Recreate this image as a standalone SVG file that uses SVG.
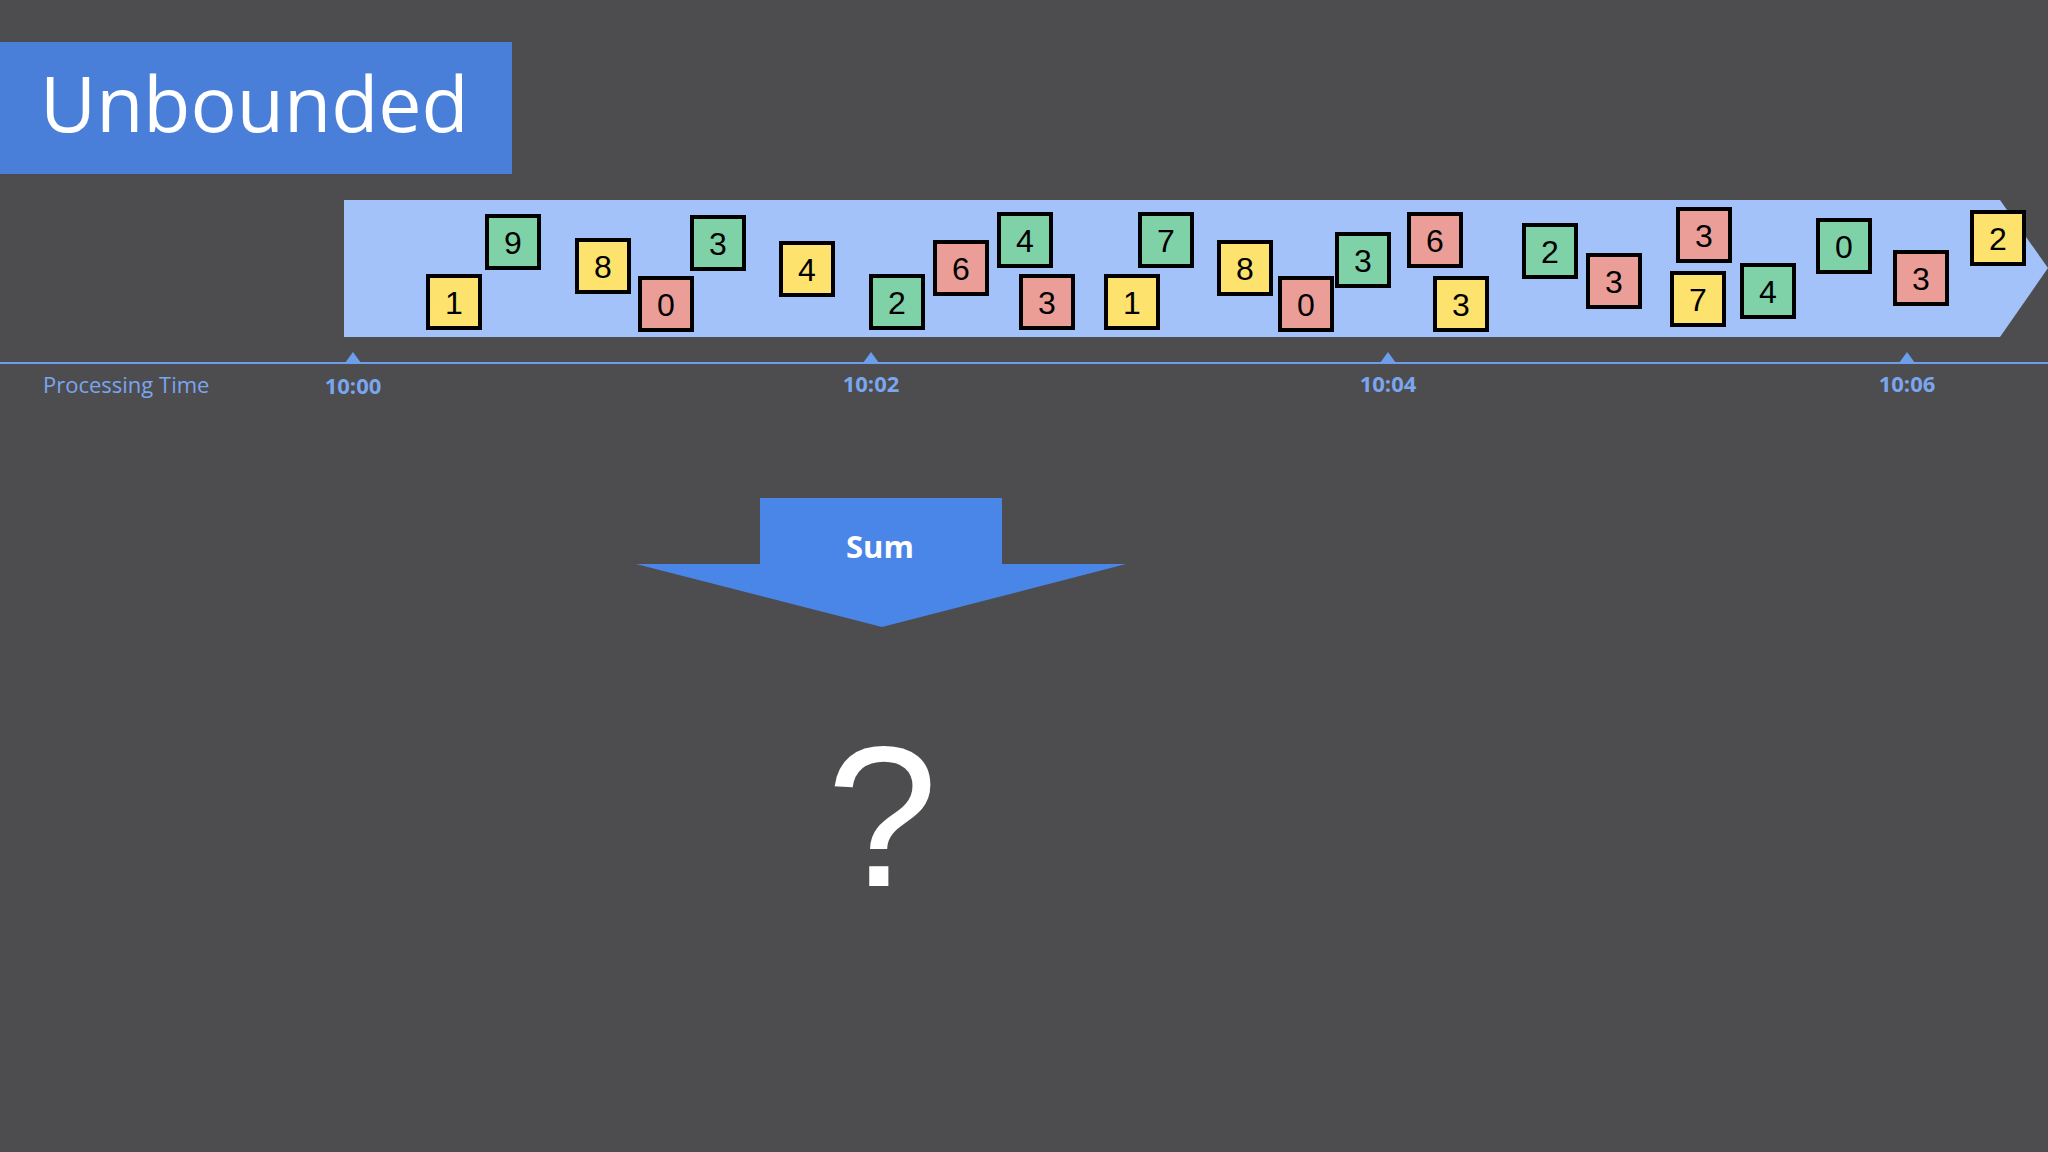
<svg xmlns="http://www.w3.org/2000/svg" width="2048" height="1152" viewBox="0 0 2048 1152">
<defs>
<style>
.b rect{stroke:#000;stroke-width:4}
.y{fill:#fde36e}.g{fill:#7fd1a8}.r{fill:#eb9e98}
.b text{font-family:"Liberation Sans",Arial,sans-serif;font-size:32px;text-anchor:middle;fill:#000}
.t{font-family:"Open Sans","Noto Sans",sans-serif;font-weight:bold;font-size:22px;fill:#7aa6ee;text-anchor:middle}
</style>
</defs>
<rect width="2048" height="1152" fill="#4d4c4e"/>
<g id="title"><rect x="0" y="42" width="512" height="132" fill="#4a7fd9"/>
<text x="40" y="132" font-family="Open Sans,Noto Sans,sans-serif" font-size="77" fill="#fff">Unbounded</text></g>
<g id="stream"><path d="M344 200 H2000 L2048 268 L2000 337 H344Z" fill="#a4c2fa"/></g>
<g id="axis">
<rect x="0" y="362" width="2048" height="2" fill="#6d9eeb"/>
<g fill="#6d9eeb"><path d="M345 363 L353 352 L361 363Z"/><path d="M863 363 L871 352 L879 363Z"/><path d="M1380 363 L1388 352 L1396 363Z"/><path d="M1899 363 L1907 352 L1915 363Z"/></g>
<text x="43" y="393" font-family="Open Sans,Noto Sans,sans-serif" font-size="22" fill="#7aa6ee">Processing Time</text>
<text class="t" x="353" y="394">10:00</text><text class="t" x="871" y="392">10:02</text><text class="t" x="1388" y="392">10:04</text><text class="t" x="1907" y="392">10:06</text>
</g>
<g id="boxes" class="b">
<g><rect class="y" x="428" y="276" width="52" height="52"/><text x="454" y="314">1</text></g>
<g><rect class="g" x="487" y="216" width="52" height="52"/><text x="513" y="254">9</text></g>
<g><rect class="y" x="577" y="240" width="52" height="52"/><text x="603" y="278">8</text></g>
<g><rect class="r" x="640" y="278" width="52" height="52"/><text x="666" y="316">0</text></g>
<g><rect class="g" x="692" y="217" width="52" height="52"/><text x="718" y="255">3</text></g>
<g><rect class="y" x="781" y="243" width="52" height="52"/><text x="807" y="281">4</text></g>
<g><rect class="g" x="871" y="276" width="52" height="52"/><text x="897" y="314">2</text></g>
<g><rect class="r" x="935" y="242" width="52" height="52"/><text x="961" y="280">6</text></g>
<g><rect class="g" x="999" y="214" width="52" height="52"/><text x="1025" y="252">4</text></g>
<g><rect class="r" x="1021" y="276" width="52" height="52"/><text x="1047" y="314">3</text></g>
<g><rect class="y" x="1106" y="276" width="52" height="52"/><text x="1132" y="314">1</text></g>
<g><rect class="g" x="1140" y="214" width="52" height="52"/><text x="1166" y="252">7</text></g>
<g><rect class="y" x="1219" y="242" width="52" height="52"/><text x="1245" y="280">8</text></g>
<g><rect class="r" x="1280" y="278" width="52" height="52"/><text x="1306" y="316">0</text></g>
<g><rect class="g" x="1337" y="234" width="52" height="52"/><text x="1363" y="272">3</text></g>
<g><rect class="r" x="1409" y="214" width="52" height="52"/><text x="1435" y="252">6</text></g>
<g><rect class="y" x="1435" y="278" width="52" height="52"/><text x="1461" y="316">3</text></g>
<g><rect class="g" x="1524" y="225" width="52" height="52"/><text x="1550" y="263">2</text></g>
<g><rect class="r" x="1588" y="255" width="52" height="52"/><text x="1614" y="293">3</text></g>
<g><rect class="r" x="1678" y="209" width="52" height="52"/><text x="1704" y="247">3</text></g>
<g><rect class="y" x="1672" y="273" width="52" height="52"/><text x="1698" y="311">7</text></g>
<g><rect class="g" x="1742" y="265" width="52" height="52"/><text x="1768" y="303">4</text></g>
<g><rect class="g" x="1818" y="220" width="52" height="52"/><text x="1844" y="258">0</text></g>
<g><rect class="r" x="1895" y="252" width="52" height="52"/><text x="1921" y="290">3</text></g>
<g><rect class="y" x="1972" y="212" width="52" height="52"/><text x="1998" y="250">2</text></g>
</g>
<g id="sum"><path d="M760 498 H1002 V564 H1126 L882 627 L636 564 H760Z" fill="#4a86e8"/>
<text x="880" y="558" font-family="Open Sans,Noto Sans,sans-serif" font-weight="bold" font-size="31" fill="#fff" text-anchor="middle">Sum</text></g>
<g id="result"><text x="882" y="886" font-family="Liberation Sans,Arial,sans-serif" font-size="200" fill="#fff" text-anchor="middle">?</text></g>
</svg>
